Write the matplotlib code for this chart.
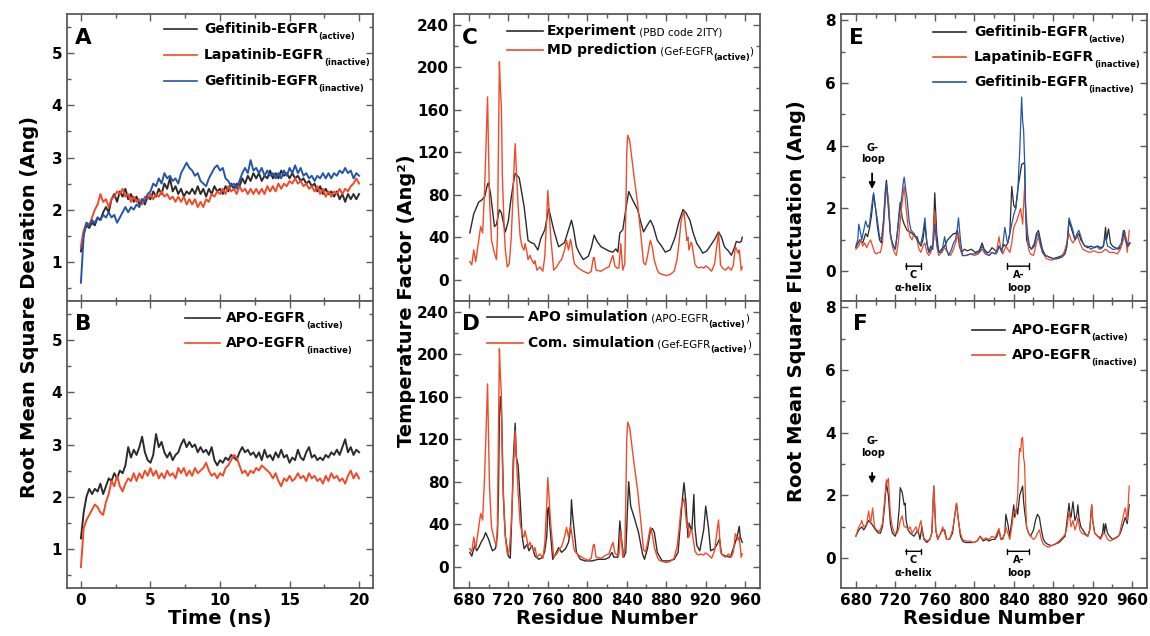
import numpy as np
import matplotlib
matplotlib.use("Agg")
import matplotlib.pyplot as plt
from matplotlib.ticker import MultipleLocator

plt.rcParams['font.family'] = ['DejaVu Sans']
plt.rcParams['font.weight'] = 'bold'
plt.rcParams['axes.labelweight'] = 'bold'

BLACK = '#2b2b2b'
RED = '#f04a28'
BLUE = '#2456a8'
FRAME = '#5a5a5a'

# ---------------- RMSD time series (ns, Ang), one value every 0.2 ns ----------------
time_ns = np.round(np.arange(0, 20.001, 0.2), 1)

rmsd_gef_act = [1.2, 1.55, 1.7, 1.65, 1.75, 1.7, 1.85, 1.8, 1.95, 2.05, 1.95, 2.2, 2.3, 2.15, 2.35, 2.25,
                2.4, 2.2, 2.3, 2.15, 2.25, 2.1, 2.2, 2.1, 2.25, 2.2, 2.35, 2.25, 2.4, 2.3, 2.5, 2.4, 2.6,
                2.35, 2.45, 2.3, 2.4, 2.25, 2.35, 2.3, 2.4, 2.3, 2.45, 2.3, 2.4, 2.25, 2.4, 2.3, 2.45,
                2.35, 2.4, 2.3, 2.45, 2.35, 2.5, 2.4, 2.5, 2.45, 2.6, 2.5, 2.65, 2.55, 2.7, 2.6, 2.7,
                2.55, 2.65, 2.6, 2.75, 2.6, 2.7, 2.6, 2.75, 2.65, 2.7, 2.6, 2.7, 2.6, 2.65, 2.55, 2.6,
                2.5, 2.55, 2.45, 2.5, 2.35, 2.45, 2.3, 2.4, 2.3, 2.35, 2.25, 2.35, 2.2, 2.3, 2.15, 2.3,
                2.2, 2.3, 2.2, 2.3]
rmsd_lap_inact = [1.3, 1.6, 1.75, 1.7, 1.85, 2.0, 2.1, 2.3, 2.15, 2.2, 2.05, 2.2, 2.25, 2.35, 2.3, 2.4,
                  2.25, 2.3, 2.15, 2.25, 2.15, 2.2, 2.1, 2.25, 2.2, 2.3, 2.2, 2.3, 2.25, 2.35, 2.25, 2.3,
                  2.2, 2.25, 2.15, 2.25, 2.15, 2.25, 2.1, 2.2, 2.1, 2.2, 2.05, 2.15, 2.05, 2.2, 2.15, 2.3,
                  2.25, 2.35, 2.3, 2.4, 2.3, 2.45, 2.35, 2.4, 2.3, 2.45, 2.35, 2.4, 2.3, 2.4, 2.3, 2.4,
                  2.3, 2.4, 2.3, 2.45, 2.35, 2.45, 2.35, 2.5, 2.4, 2.5, 2.45, 2.55, 2.5, 2.6, 2.5, 2.55,
                  2.45, 2.5, 2.4, 2.45, 2.35, 2.45, 2.3, 2.4, 2.25, 2.35, 2.25, 2.35, 2.3, 2.4, 2.3, 2.4,
                  2.35, 2.45, 2.5, 2.6, 2.5]
rmsd_gef_inact = [0.6, 1.5, 1.75, 1.7, 1.8, 1.75, 1.85, 1.8, 1.9, 1.85, 1.95, 1.85, 1.9, 1.75, 1.85, 1.95,
                  2.05, 1.95, 2.05, 2.0, 2.1, 2.05, 2.2, 2.15, 2.3, 2.35, 2.5, 2.45, 2.6, 2.5, 2.7, 2.6,
                  2.65, 2.55, 2.6, 2.5, 2.7, 2.8, 2.9, 2.8, 2.75, 2.65, 2.7, 2.55, 2.5, 2.45, 2.6, 2.7,
                  2.8, 2.85, 2.75, 2.8, 2.6, 2.55, 2.45, 2.5, 2.4, 2.55, 2.7, 2.8, 2.7, 2.95, 2.75, 2.8,
                  2.7, 2.8, 2.65, 2.75, 2.65, 2.7, 2.6, 2.7, 2.6, 2.75, 2.65, 2.8, 2.7, 2.85, 2.7, 2.8,
                  2.65, 2.7, 2.6, 2.65, 2.55, 2.65, 2.6, 2.7, 2.6, 2.7, 2.6, 2.7, 2.65, 2.75, 2.7, 2.8,
                  2.7, 2.75, 2.6, 2.7, 2.65]
rmsd_apo_act = [1.2, 1.7, 2.0, 2.15, 2.05, 2.15, 2.1, 2.25, 2.05, 2.2, 2.35, 2.3, 2.45, 2.35, 2.5, 2.45,
                2.6, 2.95, 2.75, 2.9, 2.8, 2.95, 3.15, 2.85, 2.7, 2.65, 2.8, 3.2, 2.95, 3.05, 2.85, 2.75,
                2.85, 2.7, 2.8, 2.85, 3.0, 3.1, 2.95, 3.05, 2.95, 3.0, 2.85, 2.95, 2.85, 2.9, 2.8, 2.95,
                2.7, 2.6, 2.7, 2.65, 2.75, 2.7, 2.8, 2.75, 2.7, 2.85, 2.95, 2.85, 2.9, 2.8, 2.85, 2.75,
                2.85, 2.7, 2.9, 2.75, 2.8, 2.7, 2.85, 2.75, 2.9, 2.75, 2.8, 2.65, 2.75, 2.7, 2.9, 2.75,
                2.7, 2.85, 2.95, 2.75, 2.8, 2.7, 2.75, 2.7, 2.8, 2.75, 2.85, 2.8, 2.9, 2.8, 2.95, 3.1,
                2.85, 2.95, 2.8, 2.9, 2.85]
rmsd_apo_inact = [0.65, 1.4, 1.55, 1.65, 1.75, 1.85, 1.8, 1.7, 1.65, 1.9, 2.05, 2.3, 2.2, 2.4, 2.2, 2.1,
                  2.25, 2.35, 2.3, 2.45, 2.3, 2.45, 2.35, 2.5, 2.4, 2.55, 2.4, 2.5, 2.35, 2.45, 2.35, 2.5,
                  2.4, 2.45, 2.35, 2.55, 2.45, 2.55, 2.4, 2.5, 2.4, 2.55, 2.45, 2.5, 2.55, 2.65, 2.5, 2.4,
                  2.45, 2.35, 2.45, 2.4, 2.55, 2.6, 2.7, 2.8, 2.75, 2.6, 2.45, 2.5, 2.4, 2.5, 2.45, 2.55,
                  2.5, 2.6, 2.55, 2.5, 2.45, 2.35, 2.45, 2.3, 2.2, 2.35, 2.3, 2.4, 2.3, 2.35, 2.45, 2.35,
                  2.4, 2.3, 2.45, 2.35, 2.4, 2.3, 2.35, 2.25, 2.4, 2.3, 2.45, 2.35, 2.4, 2.3, 2.35, 2.25,
                  2.4, 2.5, 2.35, 2.45, 2.35]

# ---------------- Temperature factors (residue, Ang^2) ----------------
res_exp = [681, 685, 690, 693, 696, 699, 700, 702, 706, 708, 711, 713, 717, 720, 722, 725, 727, 731, 736,
           740, 743, 746, 750, 753, 757, 761, 766, 771, 774, 777, 781, 784, 786, 789, 792, 796, 801, 804,
           807, 810, 814, 818, 822, 826, 829, 831, 833, 836, 839, 842, 846, 851, 854, 857, 860, 864, 867,
           871, 875, 879, 884, 889, 893, 897, 900, 904, 907, 911, 914, 917, 921, 924, 929, 933, 936, 939,
           943, 946, 949, 951, 954, 956, 957]
bf_exp = [44, 62, 73, 75, 78, 90, 91, 81, 50, 52, 66, 63, 45, 55, 71, 90, 100, 96, 69, 37, 35, 34, 28, 39,
          47, 67, 47, 31, 33, 35, 47, 56, 48, 31, 25, 19, 22, 30, 42, 36, 31, 29, 27, 26, 29, 26, 44, 47,
          66, 83, 75, 66, 55, 45, 50, 56, 50, 37, 32, 26, 28, 40, 55, 66, 63, 56, 45, 34, 30, 25, 27, 31,
          38, 45, 40, 31, 27, 23, 30, 36, 35, 36, 40]

res_md = [681, 683, 685, 687, 689, 690, 692, 694, 696, 699, 700, 701, 703, 706, 708, 709, 710, 711, 712,
          713, 714, 716, 717, 719, 721, 723, 724, 726, 727, 728, 730, 732, 734, 736, 737, 739, 740, 742,
          743, 746, 747, 749, 752, 755, 757, 759, 760, 761, 763, 766, 769, 772, 774, 777, 779, 781, 783,
          784, 786, 787, 791, 796, 801, 804, 806, 807, 809, 814, 819, 822, 824, 826, 828, 830, 832, 834,
          835, 836, 838, 839, 840, 841, 843, 847, 851, 854, 857, 859, 861, 863, 864, 866, 868, 871, 873,
          876, 880, 884, 888, 891, 893, 895, 896, 898, 899, 901, 902, 903, 905, 906, 908, 909, 911, 913,
          915, 918, 920, 923, 926, 929, 931, 933, 934, 935, 937, 940, 943, 946, 948, 950, 952, 953, 954,
          955, 956, 957]
bf_md = [17, 14, 28, 17, 30, 37, 50, 44, 85, 172, 120, 75, 37, 25, 19, 40, 120, 205, 180, 162, 97, 45, 28,
         12, 15, 40, 62, 110, 128, 106, 69, 41, 31, 28, 34, 25, 19, 23, 20, 15, 18, 9, 12, 8, 22, 60, 84,
         70, 40, 9, 12, 17, 19, 28, 37, 28, 38, 34, 20, 15, 11, 8, 6, 8, 20, 21, 9, 8, 11, 12, 18, 23, 13,
         11, 11, 34, 20, 9, 15, 60, 120, 136, 131, 100, 72, 45, 16, 14, 22, 33, 37, 30, 18, 9, 6, 5, 4, 5,
         8, 19, 35, 55, 59, 64, 55, 37, 40, 28, 35, 34, 22, 15, 12, 11, 12, 11, 13, 11, 8, 15, 30, 44, 30,
         14, 11, 9, 12, 9, 14, 31, 27, 25, 28, 18, 9, 12]

res_apo = [681, 683, 686, 688, 690, 692, 693, 695, 697, 699, 700, 702, 704, 707, 709, 710, 711, 712, 713,
           714, 715, 717, 720, 722, 724, 725, 727, 728, 730, 732, 734, 736, 739, 741, 744, 747, 751, 755,
           757, 759, 760, 761, 762, 763, 765, 768, 771, 774, 778, 781, 783, 784, 785, 787, 789, 793, 798,
           805, 811, 818, 822, 825, 827, 831, 833, 835, 837, 839, 841, 842, 844, 848, 852, 856, 858, 861,
           864, 866, 868, 871, 873, 876, 883, 888, 892, 895, 897, 898, 900, 902, 903, 905, 906, 908, 909,
           911, 914, 918, 920, 921, 923, 925, 929, 932, 934, 936, 940, 945, 949, 952, 954, 955, 957]
bf_apo = [13.5, 10, 20, 15, 18, 22, 24, 27, 32, 28, 26, 20, 15, 17, 30, 66, 140, 160, 150, 110, 66, 29, 10,
          8, 60, 100, 135, 104, 95, 63, 29, 17, 21, 15, 20, 10, 7, 9, 15, 29, 54, 56, 40, 29, 7, 12, 18,
          13.5, 17, 23, 35, 63, 50, 32, 13.5, 7, 5.5, 5.5, 7, 7, 8.6, 13.5, 9, 9, 43, 23, 9, 13.5, 60, 80,
          57, 45, 32, 12, 7, 17, 34, 36, 32, 13.5, 10, 5.5, 5.5, 7, 13.5, 48, 70, 79, 60, 27.5, 41, 36, 35,
          68, 38, 20, 15, 35, 57, 50, 35, 15, 17, 22, 26, 12, 10, 9, 20, 29, 38, 28, 23]

# ---------------- RMSF (residue, Ang) ----------------
res_e_gef_act = [680, 684, 687, 690, 692, 694, 696, 698, 700, 702, 704, 706, 708, 710, 711, 713, 715, 716,
                 718, 720, 722, 724, 725, 727, 729, 732, 735, 737, 740, 742, 744, 746, 748, 750, 752, 754,
                 756, 758, 760, 762, 764, 767, 770, 773, 776, 779, 781, 783, 785, 787, 790, 793, 797, 801,
                 805, 808, 810, 813, 815, 818, 820, 823, 825, 828, 830, 832, 834, 836, 838, 840, 842, 844,
                 846, 848, 850, 851, 852, 853, 855, 858, 861, 863, 865, 867, 869, 872, 876, 880, 885, 889,
                 892, 894, 896, 898, 900, 902, 904, 906, 908, 910, 912, 915, 918, 922, 925, 928, 931, 933,
                 934, 936, 938, 940, 943, 946, 949, 952, 954, 956, 958]
rmsf_gef_act = [0.75, 1.0, 0.9, 1.2, 1.1, 1.4, 1.8, 2.45, 2.0, 1.4, 1.0, 0.9, 1.5, 2.6, 2.9, 2.2, 1.2, 1.0,
                0.8, 0.7, 1.2, 1.9, 2.2, 1.7, 1.5, 1.3, 1.25, 1.2, 1.1, 1.1, 0.9, 0.8, 1.0, 1.5, 0.9, 0.6,
                0.8, 0.7, 2.5, 1.2, 0.6, 0.7, 0.8, 1.0, 1.1, 1.2, 1.2, 1.3, 0.8, 0.6, 0.7, 0.65, 0.7, 0.6,
                0.65, 0.9, 0.7, 0.6, 0.6, 0.75, 0.7, 0.6, 0.8, 0.7, 0.85, 0.8, 0.9, 1.2, 2.7, 2.1, 2.0, 2.6,
                3.0, 3.4, 3.45, 3.4, 2.0, 1.0, 0.8, 0.7, 0.9, 1.2, 1.3, 1.0, 0.7, 0.5, 0.45, 0.4, 0.45, 0.5,
                0.6, 0.9, 1.6, 1.4, 1.2, 1.0, 1.1, 1.2, 1.0, 0.9, 0.8, 0.75, 0.8, 0.75, 0.8, 0.75, 0.8, 1.4,
                1.0, 1.35, 0.9, 0.8, 0.75, 0.7, 0.8, 1.3, 1.0, 0.8, 0.9]

res_e_lap_inact = [680, 683, 685, 687, 689, 691, 693, 695, 697, 699, 701, 703, 705, 707, 709, 711, 713, 715,
                   717, 719, 721, 723, 725, 727, 729, 731, 733, 735, 737, 739, 742, 744, 746, 748, 750, 752,
                   754, 756, 758, 760, 762, 764, 767, 770, 773, 776, 779, 782, 784, 786, 788, 792, 796, 800,
                   804, 808, 811, 815, 818, 821, 823, 825, 827, 829, 832, 834, 836, 838, 840, 843, 845, 847,
                   849, 851, 852, 853, 855, 857, 860, 863, 865, 867, 870, 873, 878, 883, 888, 891, 893, 896,
                   898, 900, 902, 905, 907, 910, 913, 917, 921, 925, 929, 933, 937, 941, 945, 948, 951, 953,
                   955, 957]
rmsf_lap_inact = [0.7, 0.8, 1.0, 0.8, 0.9, 0.75, 0.9, 1.0, 0.8, 0.6, 0.55, 0.6, 0.6, 0.9, 1.8, 2.7, 2.3, 1.2,
                  0.8, 0.6, 0.5, 0.9, 1.6, 2.2, 2.7, 2.0, 1.4, 1.1, 1.0, 1.2, 1.0, 0.7, 0.6, 0.8, 0.9, 0.6,
                  0.5, 0.6, 0.9, 1.9, 0.8, 0.5, 0.6, 0.75, 0.6, 0.5, 0.7, 1.0, 1.2, 0.7, 0.5, 0.5, 0.55,
                  0.5, 0.55, 0.7, 0.55, 0.5, 0.6, 0.55, 0.7, 1.1, 0.7, 0.55, 0.8, 0.7, 0.6, 0.9, 1.4, 1.6,
                  1.8, 2.0, 1.5, 2.7, 2.0, 1.4, 0.7, 0.55, 0.5, 0.9, 1.1, 0.8, 0.55, 0.4, 0.35, 0.4, 0.45,
                  0.6, 0.8, 1.2, 1.0, 0.9, 1.0, 1.1, 0.9, 0.7, 0.65, 0.6, 0.65, 0.6, 0.6, 0.7, 0.6, 0.6,
                  0.55, 0.7, 1.0, 1.2, 0.6, 1.3]

res_e_gef_inact = [680, 682, 683, 685, 686, 688, 690, 692, 694, 695, 697, 698, 700, 702, 704, 706, 708, 710,
                   711, 713, 715, 717, 720, 722, 724, 726, 728, 729, 731, 732, 734, 736, 739, 742, 744, 746,
                   748, 750, 752, 754, 757, 759, 760, 762, 764, 767, 770, 772, 774, 777, 779, 781, 783, 784,
                   786, 788, 792, 796, 800, 805, 808, 811, 815, 818, 822, 825, 828, 831, 833, 834, 836, 838,
                   840, 842, 844, 846, 848, 849, 850, 851, 852, 854, 856, 858, 861, 863, 865, 867, 869, 872,
                   876, 880, 885, 889, 892, 894, 896, 898, 900, 902, 904, 906, 908, 910, 912, 915, 918, 921,
                   924, 927, 930, 933, 935, 938, 940, 943, 946, 949, 951, 953, 955, 957]
rmsf_gef_inact = [0.8, 1.0, 1.5, 1.2, 1.0, 1.3, 1.6, 1.4, 1.5, 1.8, 2.3, 2.5, 2.0, 1.6, 1.1, 1.0, 1.6, 2.5,
                  2.8, 2.0, 1.2, 0.9, 0.7, 1.2, 1.8, 2.2, 2.8, 3.0, 2.5, 2.3, 1.6, 1.3, 1.2, 1.0, 0.9, 0.9,
                  1.2, 1.7, 0.9, 0.6, 0.7, 1.0, 1.5, 0.9, 0.6, 0.6, 1.1, 0.7, 0.5, 0.7, 0.9, 1.0, 1.4, 1.7,
                  1.0, 0.5, 0.5, 0.55, 0.55, 0.6, 0.8, 0.6, 0.5, 0.6, 0.55, 0.8, 0.6, 1.4, 1.0, 0.9, 1.2,
                  1.5, 1.8, 2.0, 2.5, 3.8, 5.55, 4.8, 4.5, 3.5, 2.0, 1.2, 0.8, 0.7, 0.8, 1.1, 1.2, 0.9, 0.6,
                  0.5, 0.45, 0.4, 0.4, 0.45, 0.55, 0.8, 1.7, 1.5, 1.3, 1.0, 1.2, 1.3, 1.1, 0.9, 0.8, 0.8,
                  0.7, 0.75, 0.8, 0.7, 0.75, 1.1, 0.8, 0.75, 0.7, 0.7, 0.75, 0.9, 1.3, 1.0, 0.8, 0.9]

res_f_apo_act = [680, 683, 686, 688, 690, 693, 696, 698, 700, 703, 705, 707, 709, 711, 713, 715, 717, 720,
                 722, 724, 725, 727, 729, 730, 731, 733, 735, 737, 739, 741, 743, 745, 747, 749, 752, 755,
                 757, 759, 761, 763, 766, 768, 770, 772, 775, 778, 780, 782, 784, 786, 788, 791, 795, 799,
                 803, 806, 809, 812, 815, 818, 821, 823, 825, 827, 829, 831, 832, 834, 836, 838, 840, 841,
                 843, 844, 846, 848, 849, 850, 851, 853, 855, 857, 860, 862, 864, 866, 868, 870, 872, 874,
                 878, 882, 886, 889, 892, 894, 896, 897, 898, 900, 901, 902, 904, 905, 906, 908, 910, 912,
                 915, 917, 919, 920, 922, 925, 928, 930, 931, 932, 933, 935, 937, 940, 943, 946, 948, 950,
                 952, 953, 955, 957]
rmsf_apo_act = [0.7, 0.9, 1.0, 0.9, 1.0, 1.2, 1.1, 1.0, 0.9, 0.8, 0.8, 1.0, 1.6, 2.4, 2.0, 1.1, 0.8, 0.7,
                0.9, 1.6, 2.25, 2.1, 1.7, 1.75, 1.2, 0.9, 0.8, 0.75, 0.7, 0.8, 0.9, 0.6, 1.0, 0.6, 0.5,
                0.6, 0.8, 2.3, 0.9, 0.6, 0.8, 0.9, 0.9, 0.6, 0.6, 0.8, 1.3, 1.75, 1.2, 0.7, 0.55, 0.5, 0.5,
                0.5, 0.55, 0.7, 0.55, 0.6, 0.55, 0.6, 0.6, 0.7, 0.9, 0.6, 0.65, 0.8, 1.4, 1.1, 0.7, 1.2,
                1.7, 1.3, 1.6, 1.4, 2.0, 2.2, 2.3, 1.8, 1.5, 1.0, 0.8, 0.7, 0.9, 1.2, 1.4, 1.3, 0.9, 0.6,
                0.5, 0.45, 0.4, 0.45, 0.5, 0.6, 0.7, 1.2, 1.75, 1.4, 1.3, 1.8, 1.5, 1.2, 1.4, 1.7, 1.3,
                1.0, 0.9, 0.8, 0.7, 0.9, 1.7, 1.2, 0.8, 0.7, 0.65, 0.8, 1.1, 0.8, 1.1, 0.8, 0.7, 0.6,
                0.65, 0.7, 0.8, 1.0, 1.2, 1.3, 1.1, 1.7]

res_f_apo_inact = [680, 682, 683, 685, 686, 688, 690, 691, 693, 695, 697, 699, 701, 704, 707, 709, 711, 712,
                   713, 715, 717, 719, 722, 724, 725, 727, 729, 731, 733, 735, 737, 739, 741, 743, 745, 746,
                   748, 750, 752, 755, 757, 759, 761, 763, 766, 768, 770, 772, 775, 778, 780, 782, 784, 786,
                   788, 791, 795, 799, 803, 806, 809, 812, 815, 818, 821, 823, 825, 827, 829, 831, 832, 834,
                   836, 838, 840, 842, 844, 845, 846, 847, 848, 849, 850, 851, 852, 853, 855, 857, 860, 862,
                   864, 866, 868, 870, 872, 875, 878, 882, 886, 889, 892, 894, 896, 898, 900, 902, 904, 905,
                   907, 909, 912, 915, 917, 919, 920, 922, 925, 928, 931, 933, 935, 938, 941, 944, 947, 950,
                   952, 953, 955, 957]
rmsf_apo_inact = [0.7, 0.9, 1.0, 1.1, 1.2, 1.0, 1.05, 1.1, 1.5, 1.1, 1.6, 1.0, 0.9, 0.85, 1.1, 1.8, 2.5,
                  2.4, 2.55, 1.4, 1.0, 0.8, 0.8, 1.0, 1.2, 1.35, 1.0, 1.0, 0.9, 1.0, 0.8, 0.9, 1.0, 0.8,
                  1.1, 1.2, 0.7, 0.6, 0.55, 0.6, 0.8, 2.3, 0.9, 0.6, 0.8, 1.0, 0.8, 0.6, 0.6, 0.9, 1.3,
                  1.75, 1.2, 0.8, 0.6, 0.55, 0.55, 0.5, 0.55, 0.7, 0.6, 0.65, 0.6, 0.7, 0.65, 0.8, 0.95,
                  0.6, 0.6, 0.8, 1.0, 0.8, 0.6, 1.0, 1.5, 1.4, 2.0, 3.0, 3.5, 3.4, 3.8, 3.85, 3.2, 3.0,
                  1.8, 1.0, 0.8, 0.7, 0.6, 0.65, 0.8, 0.9, 0.6, 0.45, 0.4, 0.35, 0.4, 0.45, 0.55, 0.65,
                  0.75, 1.0, 1.5, 1.0, 1.2, 0.9, 1.1, 1.3, 0.9, 0.8, 0.75, 0.7, 0.9, 1.7, 1.2, 0.8, 0.7,
                  0.6, 0.8, 0.75, 0.6, 0.55, 0.6, 0.65, 0.75, 1.2, 1.5, 1.6, 1.2, 2.3]


def style_axes(ax, xlim, ylim, xmaj, xmin, ymaj, ymin):
    ax.set_xlim(*xlim)
    ax.set_ylim(*ylim)
    ax.xaxis.set_major_locator(MultipleLocator(xmaj))
    ax.xaxis.set_minor_locator(MultipleLocator(xmin))
    ax.yaxis.set_major_locator(MultipleLocator(ymaj))
    ax.yaxis.set_minor_locator(MultipleLocator(ymin))
    ax.tick_params(which='both', direction='in', top=True, right=True,
                   color=FRAME, labelsize=11, width=1)
    ax.tick_params(which='major', length=5)
    ax.tick_params(which='minor', length=3)
    for lab in ax.get_xticklabels() + ax.get_yticklabels():
        lab.set_fontweight('bold')
    for s in ax.spines.values():
        s.set_color(FRAME)
        s.set_linewidth(1.3)


def legend_entry(ax, x0, x1, xt, y, color, main, extras=(), size=10):
    ax.plot([x0, x1], [y, y], color=color, lw=1.2, transform=ax.transAxes, clip_on=False)
    t0 = ax.text(xt, y, main, transform=ax.transAxes, va='center', ha='left',
                 fontsize=size, fontweight='bold')
    prev = t0
    for txt, kind in extras:
        if kind == 'sub':
            prev = ax.annotate(txt, xy=(1, 0.3), xycoords=(prev, t0), va='top', ha='left',
                               fontsize=6, fontweight='bold')
        else:
            prev = ax.annotate(txt, xy=(1, 0), xycoords=(prev, t0), va='bottom', ha='left',
                               fontsize=7.5, fontweight='normal')


def panel_letter(ax, letter, x=0.025, y=0.92):
    ax.text(x, y, letter, transform=ax.transAxes, fontsize=15.5, fontweight='bold', va='center')


fig = plt.figure(figsize=(11.5, 6.36), dpi=100)
W, H = 1150, 636
aw, ah = 306 / W, 287 / H
top_b, bot_b = 1 - 301 / H, 1 - 588 / H
axA = fig.add_axes([67 / W, top_b, aw, ah])
axB = fig.add_axes([67 / W, bot_b, aw, ah])
axC = fig.add_axes([454 / W, top_b, aw, ah])
axD = fig.add_axes([454 / W, bot_b, aw, ah])
axE = fig.add_axes([841 / W, top_b, aw, ah])
axF = fig.add_axes([841 / W, bot_b, aw, ah])

# ---- A / B : RMSD ----
axA.plot(time_ns, rmsd_gef_act, color=BLACK, lw=1.4)
axA.plot(time_ns, rmsd_lap_inact, color=RED, lw=1.4)
axA.plot(time_ns, rmsd_gef_inact, color=BLUE, lw=1.4)
axB.plot(time_ns, rmsd_apo_act, color=BLACK, lw=1.4)
axB.plot(time_ns, rmsd_apo_inact, color=RED, lw=1.4)
for ax in (axA, axB):
    style_axes(ax, (-1, 21), (0.25, 5.75), 5, 2.5, 1, 0.5)
axA.tick_params(labelbottom=False)
axB.set_xlabel('Time (ns)', fontsize=14, fontweight='bold', labelpad=1)
panel_letter(axA, 'A', y=0.918)
panel_letter(axB, 'B', y=0.921)

legend_entry(axA, 0.317, 0.425, 0.448, 0.948, BLACK, 'Gefitinib-EGFR', [('(active)', 'sub')])
legend_entry(axA, 0.317, 0.425, 0.448, 0.857, RED, 'Lapatinib-EGFR', [('(inactive)', 'sub')])
legend_entry(axA, 0.317, 0.425, 0.448, 0.767, BLUE, 'Gefitinib-EGFR', [('(inactive)', 'sub')])
legend_entry(axB, 0.386, 0.50, 0.52, 0.941, BLACK, 'APO-EGFR', [('(active)', 'sub')])
legend_entry(axB, 0.386, 0.50, 0.52, 0.854, RED, 'APO-EGFR', [('(inactive)', 'sub')])

# ---- C / D : temperature factors ----
axC.plot(res_exp, bf_exp, color=BLACK, lw=1.0)
axC.plot(res_md, bf_md, color=RED, lw=1.0)
axD.plot(res_apo, bf_apo, color=BLACK, lw=1.0)
axD.plot(res_md, bf_md, color=RED, lw=1.0)
for ax in (axC, axD):
    style_axes(ax, (665, 975), (-20, 250), 40, 20, 40, 20)
axC.tick_params(labelbottom=False)
axD.set_xlabel('Residue Number', fontsize=14, fontweight='bold', labelpad=1)
panel_letter(axC, 'C', y=0.916)
panel_letter(axD, 'D', y=0.921)

legend_entry(axC, 0.172, 0.29, 0.303, 0.941, BLACK, 'Experiment', [(' (PBD code 2ITY)', 'small')])
legend_entry(axC, 0.172, 0.29, 0.303, 0.875, RED, 'MD prediction',
             [(' (Gef-EGFR', 'small'), ('(active)', 'sub'), (')', 'small')])
legend_entry(axD, 0.108, 0.225, 0.242, 0.945, BLACK, 'APO simulation',
             [(' (APO-EGFR', 'small'), ('(active)', 'sub'), (')', 'small')])
legend_entry(axD, 0.108, 0.225, 0.242, 0.855, RED, 'Com. simulation',
             [(' (Gef-EGFR', 'small'), ('(active)', 'sub'), (')', 'small')])

# ---- E / F : RMSF ----
axE.plot(res_e_gef_act, rmsf_gef_act, color=BLACK, lw=0.9)
axE.plot(res_e_lap_inact, rmsf_lap_inact, color=RED, lw=0.9)
axE.plot(res_e_gef_inact, rmsf_gef_inact, color=BLUE, lw=0.9)
axF.plot(res_f_apo_act, rmsf_apo_act, color=BLACK, lw=0.9)
axF.plot(res_f_apo_inact, rmsf_apo_inact, color=RED, lw=0.9)
for ax in (axE, axF):
    style_axes(ax, (665, 975), (-0.95, 8.2), 40, 20, 2, 1)
axE.tick_params(labelbottom=False)
axF.set_xlabel('Residue Number', fontsize=14, fontweight='bold', labelpad=1)
panel_letter(axE, 'E', y=0.916)
panel_letter(axF, 'F', x=0.038, y=0.92)

legend_entry(axE, 0.30, 0.41, 0.435, 0.938, BLACK, 'Gefitinib-EGFR', [('(active)', 'sub')])
legend_entry(axE, 0.30, 0.41, 0.435, 0.851, RED, 'Lapatinib-EGFR', [('(inactive)', 'sub')])
legend_entry(axE, 0.30, 0.41, 0.435, 0.764, BLUE, 'Gefitinib-EGFR', [('(inactive)', 'sub')])
legend_entry(axF, 0.427, 0.536, 0.558, 0.899, BLACK, 'APO-EGFR', [('(active)', 'sub')])
legend_entry(axF, 0.427, 0.536, 0.558, 0.812, RED, 'APO-EGFR', [('(inactive)', 'sub')])

# region annotations
for ax, gy, a0, a1, by in ((axE, 3.75, 3.12, 2.62, 0.16), (axF, 3.55, 2.72, 2.38, 0.22)):
    ax.text(697, gy, 'G-\nloop', ha='center', va='center', fontsize=7, fontweight='bold',
            linespacing=1.2)
    ax.annotate('', xy=(696.5, a1), xytext=(696.5, a0),
                arrowprops=dict(arrowstyle='-|>', color='k', lw=1.3, mutation_scale=9,
                                shrinkA=0, shrinkB=0))
    ax.annotate('', xy=(730.5, by), xytext=(746.5, by),
                arrowprops=dict(arrowstyle='|-|, widthA=0.2, widthB=0.2', color='k', lw=1,
                                shrinkA=0, shrinkB=0))
    ax.annotate('', xy=(833.5, by), xytext=(855.5, by),
                arrowprops=dict(arrowstyle='|-|, widthA=0.2, widthB=0.2', color='k', lw=1,
                                shrinkA=0, shrinkB=0))
    ax.text(738.5, by - 0.28, 'C', ha='center', va='center', fontsize=7, fontweight='bold')
    ax.text(738.5, by - 0.70, 'α-helix', ha='center', va='center', fontsize=7, fontweight='bold')
    ax.text(845, by - 0.28, 'A-', ha='center', va='center', fontsize=7, fontweight='bold')
    ax.text(845, by - 0.70, 'loop', ha='center', va='center', fontsize=7, fontweight='bold')

# shared y labels
fig.text(30 / W, 1 - 307 / H, 'Root Mean Square Deviation (Ang)', rotation=90,
         ha='center', va='center', fontsize=14, fontweight='bold')
fig.text(406 / W, 1 - 301 / H, 'Temperature Factor (Ang²)', rotation=90,
         ha='center', va='center', fontsize=14, fontweight='bold')
fig.text(796 / W, 1 - 301 / H, 'Root Mean Square Fluctuation (Ang)', rotation=90,
         ha='center', va='center', fontsize=14, fontweight='bold')

fig.savefig('out.png', dpi=100, facecolor='white')
